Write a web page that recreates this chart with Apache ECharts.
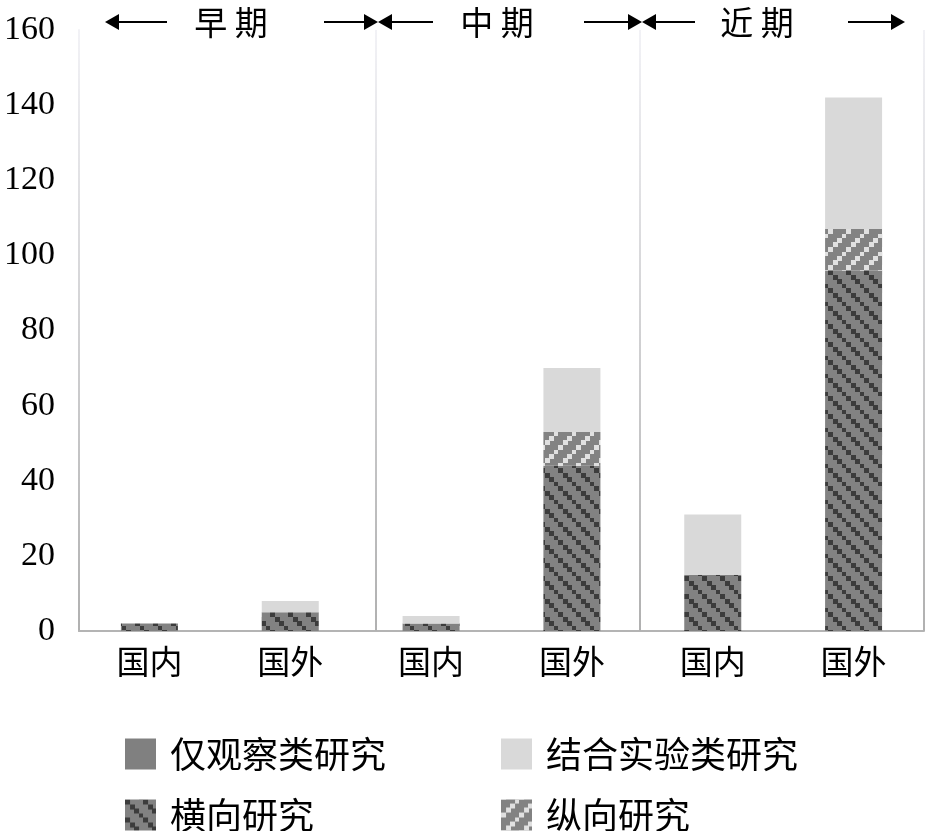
<!DOCTYPE html>
<html>
<head>
<meta charset="utf-8">
<script src="https://cdn.jsdelivr.net/npm/echarts@6/dist/echarts.min.js"></script>
<style>
	html, body { margin: 0; padding: 0; background: #fff; }
	#chart { width: 928px; height: 831px; }
</style>
</head>
<body>
<div id="chart"></div>
<script>
// 数据
var categories = ['国内', '国外', '国内', '国外', '国内', '国外'];
var observeOnly = [0, 0, 0, 0, 0, 0];        // 仅观察类研究
var crossSection = [2, 5, 2, 44, 15, 96];    // 横向研究
var longitudinal = [0, 0, 0, 9, 0, 11];      // 纵向研究
var experiment = [0, 3, 2, 17, 16, 35];      // 结合实验类研究
var yTicks = [0, 160, 20];                   // min, max, interval
var periodNames = ['早 期', '中 期', '近 期'];
var periodBounds = [2.11, 3.98, 6];          // 分期竖线位置(按类目宽度计)

/*
 * 生成斜线填充图案
 */
function makePattern(bg, fg, down) {
	var size = 18;
	var c = document.createElement('canvas');
	c.width = size;
	c.height = size;
	var ctx = c.getContext('2d');
	ctx.fillStyle = bg;
	ctx.fillRect(0, 0, size, size);
	ctx.fillStyle = fg;
	for (var k = -1; k < 5; k++) {
		var x = Math.round(k * 4.5);
		var y = down ? Math.round(k * 4.5) : size - 5 - Math.round(k * 4.5);
		ctx.fillRect(x, y, 5, 5);
	}
	return { image: c, repeat: 'repeat' };
}

var crossPattern = makePattern('#828282', '#3c3c3c', true);
var longPattern = makePattern('#828282', '#e0e0e0', false);

function fadeLine() {
	return new echarts.graphic.LinearGradient(0, 0, 0, 1, [
		{ offset: 0, color: '#f2f2f6' },
		{ offset: 1, color: '#b0b0b0' }
	]);
}

/*
 * 顶部分期标注
 */
function arrowHead(tip, dir, y) {
	var len = 14, half = 8;
	return {
		type: 'polygon',
		shape: { points: [[tip, y], [tip - dir * len, y - half], [tip - dir * len, y + half]] },
		style: { fill: '#000' }
	};
}
function hLine(x1, x2, y) {
	return {
		type: 'line',
		shape: { x1: x1, y1: y, x2: x2, y2: y },
		style: { stroke: '#000', lineWidth: 2 }
	};
}
function buildHeader() {
	var y = 22;
	var segs = [
		{ l: 105, l2: 167, c: 231, r1: 324, r: 378 },
		{ l: 378, l2: 433, c: 497, r1: 584, r: 642 },
		{ l: 642, l2: 695, c: 757, r1: 848, r: 905 }
	];
	var els = [];
	for (var i = 0; i < segs.length; i++) {
		var s = segs[i];
		els.push(hLine(s.l + 10, s.l2, y));
		els.push(arrowHead(s.l, -1, y));
		els.push(hLine(s.r1, s.r - 10, y));
		els.push(arrowHead(s.r, 1, y));
		els.push({
			type: 'text',
			x: s.c,
			y: y,
			style: {
				text: periodNames[i],
				font: '33px "Noto Sans CJK SC"',
				fill: '#000',
				align: 'center',
				verticalAlign: 'middle'
			}
		});
	}
	return els;
}

function legendAt(name, left, top) {
	return {
		data: [name],
		left: left,
		top: top,
		padding: 0,
		itemWidth: 31,
		itemHeight: 31,
		selectedMode: false,
		icon: 'rect',
		textStyle: {
			fontFamily: 'Noto Sans CJK SC',
			fontSize: 36,
			lineHeight: 36,
			color: '#000',
			padding: [0, 0, 0, 9]
		}
	};
}

var myChart = echarts.init(document.getElementById('chart'));
var option = {
	backgroundColor: '#fff',
	animation: false,
	grid: { left: 79, right: 4, top: 30, bottom: 200 },
	legend: [
		legendAt('仅观察类研究', 125, 736),
		legendAt('结合实验类研究', 501, 736),
		legendAt('横向研究', 125, 797),
		legendAt('纵向研究', 501, 797)
	],
	xAxis: [{
		type: 'category',
		data: categories,
		axisLine: { lineStyle: { color: '#b4b4b4', width: 2 } },
		axisTick: { show: false },
		axisLabel: {
			fontFamily: 'Noto Sans CJK SC',
			fontSize: 33,
			color: '#000',
			margin: 14
		}
	}, {
		type: 'value',
		min: 0,
		max: 6,
		show: false
	}],
	yAxis: {
		type: 'value',
		min: yTicks[0],
		max: yTicks[1],
		interval: yTicks[2],
		axisLine: { show: true, lineStyle: { color: fadeLine(), width: 2 } },
		axisTick: { show: false },
		splitLine: { show: false },
		axisLabel: {
			fontFamily: 'Liberation Serif',
			fontSize: 34,
			color: '#000',
			margin: 24
		}
	},
	graphic: buildHeader(),
	series: [{
		name: '仅观察类研究',
		type: 'bar',
		stack: 'total',
		barWidth: 57,
		itemStyle: { color: '#808080' },
		data: observeOnly
	}, {
		name: '横向研究',
		type: 'bar',
		stack: 'total',
		barWidth: 57,
		itemStyle: { color: crossPattern },
		data: crossSection
	}, {
		name: '纵向研究',
		type: 'bar',
		stack: 'total',
		barWidth: 57,
		itemStyle: { color: longPattern },
		data: longitudinal
	}, {
		name: '结合实验类研究',
		type: 'bar',
		stack: 'total',
		barWidth: 57,
		itemStyle: { color: '#d9d9d9' },
		data: experiment
	}, {
		name: 'bounds',
		type: 'line',
		xAxisIndex: 1,
		data: [],
		markLine: {
			silent: true,
			symbol: 'none',
			label: { show: false },
			lineStyle: { color: fadeLine(), width: 2, type: 'solid' },
			data: periodBounds.map(function (v) { return { xAxis: v }; })
		}
	}]
};
myChart.setOption(option);
</script>
</body>
</html>
